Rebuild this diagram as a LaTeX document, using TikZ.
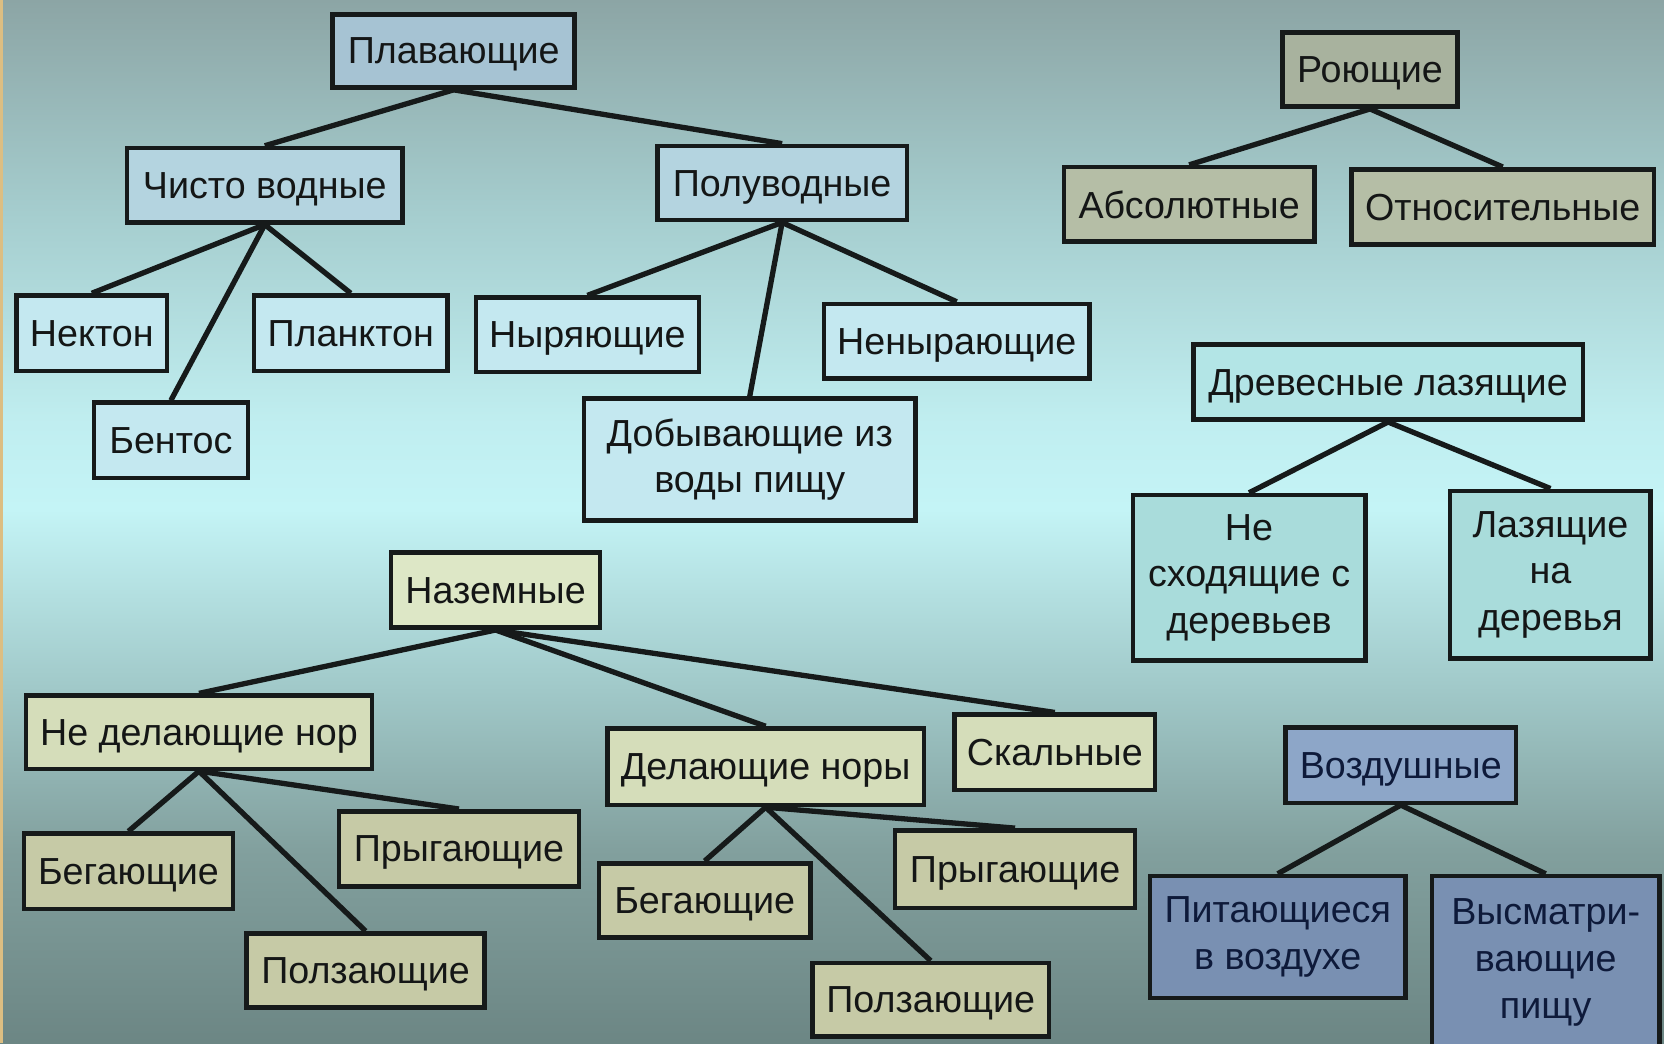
\documentclass[tikz,border=0pt]{standalone}
\usepackage{fontspec}
\setmainfont{Liberation Sans}
\definecolor{bgtop}{RGB}{140,165,165}
\definecolor{bgA}{RGB}{165,205,206}
\definecolor{bgB}{RGB}{192,238,240}
\definecolor{bgC}{RGB}{196,244,246}
\definecolor{bgD}{RGB}{160,200,200}
\definecolor{bgE}{RGB}{130,160,158}
\definecolor{bgbot}{RGB}{108,134,132}
\definecolor{strip}{RGB}{220,190,130}
\definecolor{boxline}{RGB}{22,26,26}
\definecolor{txt}{RGB}{20,22,22}
\definecolor{cPlTop}{RGB}{166,195,211}
\definecolor{cPl}{RGB}{180,212,224}
\definecolor{cPlB}{RGB}{196,232,240}
\definecolor{cRoy}{RGB}{168,178,158}
\definecolor{cRoyB}{RGB}{181,190,166}
\definecolor{cDre}{RGB}{179,229,230}
\definecolor{cDreB}{RGB}{169,220,219}
\definecolor{cNaz}{RGB}{221,231,198}
\definecolor{cNazA}{RGB}{213,221,186}
\definecolor{cNazB}{RGB}{198,202,166}
\definecolor{cVoz}{RGB}{141,166,200}
\definecolor{cVozB}{RGB}{121,144,178}
\definecolor{txtV}{RGB}{14,26,58}
\pgfdeclareverticalshading{bgshade}{100bp}{color(0bp)=(bgbot); color(25bp)=(bgbot); color(34.3bp)=(bgE); color(41.9bp)=(bgD); color(50.6bp)=(bgC); color(54.7bp)=(bgB); color(64.8bp)=(bgA); color(75bp)=(bgtop); color(100bp)=(bgtop)}
\tikzset{
  bx/.style={draw=boxline, line width=4.3pt, rectangle, align=center, text=txt,
    font=\fontsize{35.5}{44}\selectfont, inner sep=0pt},
  one/.style={text depth=0pt},
  conn/.style={draw=boxline, line width=5pt}
}
\begin{document}
\begin{tikzpicture}[x={(1pt,0)}, y={(0,-1pt)}]
\useasboundingbox (0,0) rectangle (1568,983);
\shade[shading=bgshade] (0,0) rectangle (1568,983);
\fill[strip] (0,0) rectangle (3,983);
% Плавающие
\node[bx, one, fill=cPlTop, minimum width=228, minimum height=69] (pl) at (427.5,48) {Плавающие};
\node[bx, one, fill=cPl, minimum width=260, minimum height=70] (cv) at (249.5,174.5) {Чисто водные};
\node[bx, one, fill=cPl, minimum width=235, minimum height=70] (pv) at (737,172.5) {Полуводные};
\node[bx, one, fill=cPlB, minimum width=142, minimum height=71] (nek) at (86.5,314) {Нектон};
\node[bx, one, fill=cPlB, minimum width=182, minimum height=71] (pla) at (330.5,314) {Планктон};
\node[bx, one, fill=cPlB, minimum width=145, minimum height=71] (ben) at (161,415) {Бентос};
\node[bx, one, fill=cPlB, minimum width=210, minimum height=70] (nyr) at (553.5,315.5) {Ныряющие};
\node[bx, one, fill=cPlB, minimum width=250, minimum height=70] (nen) at (901.5,321.5) {Ненырающие};
\node[bx, fill=cPlB, minimum width=312, minimum height=115] (dob) at (706.5,433) {Добывающие из\\воды пищу};
% Роющие
\node[bx, one, fill=cRoy, minimum width=165, minimum height=70] (roy) at (1291,65.5) {Роющие};
\node[bx, one, fill=cRoyB, minimum width=236, minimum height=70] (abs) at (1120.5,192.5) {Абсолютные};
\node[bx, one, fill=cRoyB, minimum width=285, minimum height=71] (otn) at (1416,195) {Относительные};
% Древесные
\node[bx, one, fill=cDre, minimum width=367, minimum height=71] (dre) at (1308,360) {Древесные лазящие};
\node[bx, fill=cDreB, minimum width=219, minimum height=156] (nes) at (1177,544.5) {Не\\сходящие с\\деревьев};
\node[bx, fill=cDreB, minimum width=189, minimum height=158] (laz) at (1461,541.5) {Лазящие\\на\\деревья};
% Наземные
\node[bx, one, fill=cNaz, minimum width=197, minimum height=71] (naz) at (467,556) {Наземные};
\node[bx, one, fill=cNazA, minimum width=326, minimum height=69] (ndn) at (187.5,690) {Не делающие нор};
\node[bx, one, fill=cNazA, minimum width=298, minimum height=72] (dn) at (721.5,722.5) {Делающие норы};
\node[bx, one, fill=cNazA, minimum width=189, minimum height=71] (ska) at (994,709) {Скальные};
\node[bx, one, fill=cNazB, minimum width=197, minimum height=71] (beg1) at (121,821) {Бегающие};
\node[bx, one, fill=cNazB, minimum width=226, minimum height=71] (pry1) at (432.5,800) {Прыгающие};
\node[bx, one, fill=cNazB, minimum width=224, minimum height=70] (pol1) at (344.5,914.5) {Ползающие};
\node[bx, one, fill=cNazB, minimum width=199, minimum height=70] (beg2) at (664,848.5) {Бегающие};
\node[bx, one, fill=cNazB, minimum width=226, minimum height=73] (pry2) at (956.5,819) {Прыгающие};
\node[bx, one, fill=cNazB, minimum width=223, minimum height=69] (pol2) at (877,942) {Ползающие};
% Воздушные
\node[bx, one, fill=cVoz, text=txtV, minimum width=217, minimum height=71] (voz) at (1320,721) {Воздушные};
\node[bx, fill=cVozB, text=txtV, minimum width=241, minimum height=115] (pit) at (1204,883) {Питающиеся\\в воздухе};
\node[bx, fill=cVozB, text=txtV, minimum width=214, minimum height=163] (vys) at (1456.5,907) {Высматри-\\вающие\\пищу};
% connectors
\foreach \p/\c in {pl/cv, pl/pv, cv/nek, cv/ben, cv/pla, pv/nyr, pv/dob, pv/nen,
  roy/abs, roy/otn, dre/nes, dre/laz, naz/ndn, naz/dn, naz/ska,
  ndn/beg1, ndn/pol1, ndn/pry1, dn/beg2, dn/pol2, dn/pry2, voz/pit, voz/vys}
  \draw[conn] (\p.south) -- (\c.north);
\end{tikzpicture}
\end{document}
